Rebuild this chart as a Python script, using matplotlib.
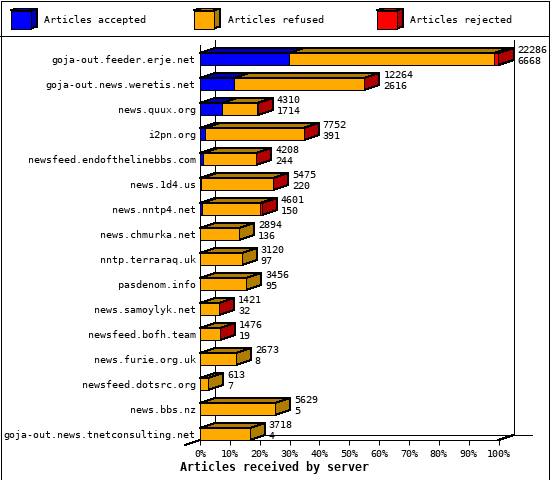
import matplotlib
matplotlib.use('Agg')
import matplotlib.pyplot as plt
from matplotlib.patches import Polygon, Rectangle

servers = ['goja-out.feeder.erje.net', 'goja-out.news.weretis.net', 'news.quux.org', 'i2pn.org',
           'newsfeed.endofthelinebbs.com', 'news.1d4.us', 'news.nntp4.net', 'news.chmurka.net',
           'nntp.terraraq.uk', 'pasdenom.info', 'news.samoylyk.net', 'newsfeed.bofh.team',
           'news.furie.org.uk', 'newsfeed.dotsrc.org', 'news.bbs.nz', 'goja-out.news.tnetconsulting.net']
accepted = [6670, 2540, 1630, 360, 210, 110, 130, 0, 0, 0, 0, 0, 0, 0, 0, 0]
refused = [15282, 9704, 2660, 7372, 3983, 5355, 4321, 2894, 3120, 3456, 1416, 1471, 2673, 613, 5629, 3718]
rejected = [334, 20, 20, 20, 15, 10, 150, 0, 0, 0, 5, 5, 0, 0, 0, 0]
articles = [22286, 12264, 4310, 7752, 4208, 5475, 4601, 2894, 3120, 3456, 1421, 1476, 2673, 613, 5629, 3718]
sizes = [6668, 2616, 1714, 391, 244, 220, 150, 136, 97, 95, 32, 19, 8, 7, 5, 4]
xticks = [0, 10, 20, 30, 40, 50, 60, 70, 80, 90, 100]
legend_names = ['Articles accepted', 'Articles refused', 'Articles rejected']

FRONT = ['#0000ff', '#ffaa00', '#ff0000']
DARK = ['#0000b0', '#b07c00', '#b00000']
PX = 0.72  # one pixel in points at dpi 100

plt.rcParams['font.family'] = 'DejaVu Sans Mono'
plt.rcParams['font.size'] = 7.2
plt.rcParams['text.hinting'] = 'native'
plt.rcParams['lines.antialiased'] = False
plt.rcParams['patch.antialiased'] = False

fig = plt.figure(figsize=(5.5, 4.8), dpi=100, facecolor='white')

# overlay in pixel coordinates for the frame, legend and axis title
over = fig.add_axes([0, 0, 1, 1], zorder=0)
over.set_xlim(0, 550)
over.set_ylim(480, 0)
over.axis('off')
over.add_patch(Rectangle((0.5, 0.5), 548, 479, fill=False, edgecolor='black', linewidth=PX))
over.plot([0, 549], [35.5, 35.5], color='black', linewidth=PX)
for x0, name, front, dark in zip([10.5, 193.5, 376.5], legend_names, FRONT, DARK):
    over.add_patch(Polygon([(x0 + 20, 10.5), (x0 + 26.5, 8.5), (x0 + 26.5, 26.5), (x0 + 20, 28.5)],
                           facecolor=dark, edgecolor='black', linewidth=PX))
    over.add_patch(Polygon([(x0, 10.5), (x0 + 6.5, 8.5), (x0 + 26.5, 8.5), (x0 + 20, 10.5)],
                           facecolor=dark, edgecolor='black', linewidth=PX))
    over.add_patch(Rectangle((x0, 10.5), 20, 18, facecolor=front, edgecolor='black', linewidth=PX))
    over.text(x0 + 34, 20, name, va='center', ha='left')
over.text(274, 467, 'Articles received by server', ha='center', va='center', fontsize=8.4, fontweight='bold')

# main axes: the front plane of the chart
ax = fig.add_axes([200 / 550, (480 - 440) / 480, 298.5 / 550, 395 / 480], zorder=1)
ax.patch.set_alpha(0)
ax.set_xlim(0, 100)
ax.set_ylim(15.24, -0.56)
rows = list(range(len(servers)))
dx = 15 / 2.98
dy = 5 / 25
half = 0.24

for s in ['top', 'right']:
    ax.spines[s].set_visible(False)
ax.spines['left'].set_linewidth(PX)
ax.spines['bottom'].set_linewidth(PX)
ax.set_xticks(xticks)
ax.set_xticklabels([str(t) + '%' for t in xticks])
ax.tick_params(axis='x', length=5.3 * PX, width=PX, pad=2.5)
ax.set_yticks(rows)
ax.set_yticklabels(servers)
ax.tick_params(axis='y', length=0, pad=3)

# back wall and floor
wall = dict(color='black', linewidth=PX, clip_on=False, zorder=1)
ax.plot([dx, dx], [15.24 - dy, -0.76], **wall)
ax.plot([100 + dx, 100 + dx], [15.24 - dy, -0.76], **wall)
ax.plot([dx, 100 + dx + 6.2], [15.24 - dy, 15.24 - dy], **wall)
ax.plot([100, 100 + dx], [15.24, 15.24 - dy], **wall)
ax.plot([-dx, 0], [15.24 + dy, 15.24], **wall)

scale = 100 / max(articles)
for i in rows:
    left = 0
    last = None
    for seg, front, dark in zip([accepted[i], refused[i], rejected[i]], FRONT, DARK):
        if seg == 0:
            continue
        w = seg * scale
        top = i - half
        ax.add_patch(Polygon([(left, top), (left + dx, top - dy), (left + w + dx, top - dy), (left + w, top)],
                             facecolor=dark, edgecolor='black', linewidth=PX, clip_on=False, zorder=2 + i * 0.01))
        ax.barh(i, w, left=left, height=2 * half, color=front, edgecolor='black', linewidth=PX,
                clip_on=False, zorder=3 + i * 0.01)
        left += w
        last = dark
    ax.add_patch(Polygon([(left, i - half), (left + dx, i - half - dy), (left + dx, i + half - dy), (left, i + half)],
                         facecolor=last, edgecolor='black', linewidth=PX, clip_on=False, zorder=2 + i * 0.01))
    ax.annotate(str(articles[i]), (left, i), xytext=(19 * PX, 9 * PX), textcoords='offset points',
                va='center', ha='left', annotation_clip=False, zorder=5)
    ax.annotate(str(sizes[i]), (left, i), xytext=(19 * PX, -2 * PX), textcoords='offset points',
                va='center', ha='left', annotation_clip=False, zorder=5)

fig.savefig('out.png', dpi=100, facecolor='white')
